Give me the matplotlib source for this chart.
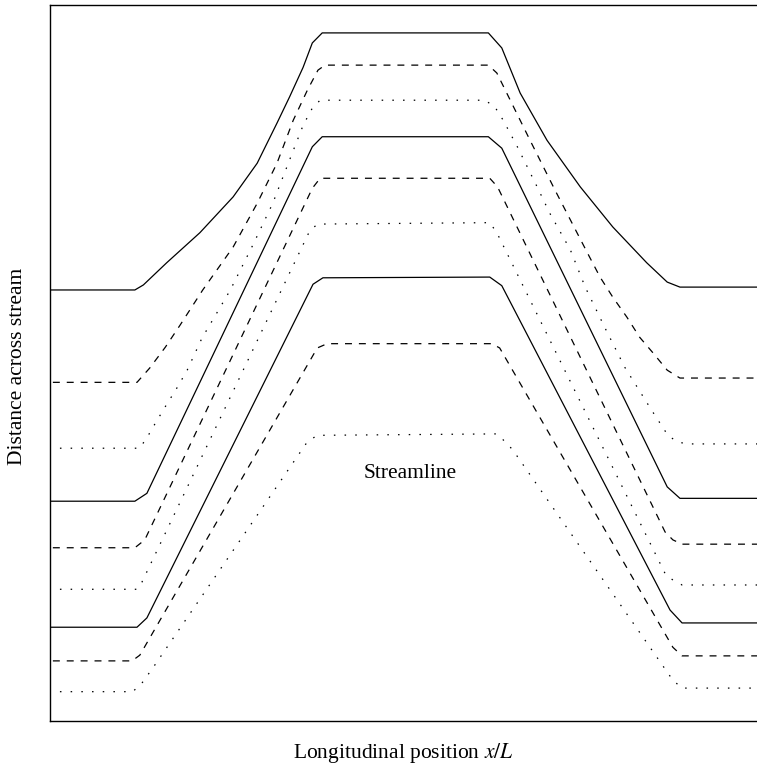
import matplotlib
matplotlib.use("Agg")
import matplotlib.pyplot as plt

plt.rcParams['font.family'] = ['Liberation Serif', 'DejaVu Serif']
plt.rcParams['mathtext.fontset'] = 'stix'
plt.rcParams['lines.scale_dashes'] = False

# streamlines, x/L vs distance across stream
s1_x = [0, 0.120, 0.132, 0.165, 0.212, 0.259, 0.293, 0.321, 0.339, 0.358, 0.371, 0.385,
        0.620, 0.639, 0.665, 0.703, 0.750, 0.796, 0.844, 0.873, 0.891, 1.0]
s1_y = [6.02, 6.02, 6.09, 6.40, 6.82, 7.32, 7.79, 8.35, 8.72, 9.13, 9.47, 9.61,
        9.61, 9.40, 8.77, 8.11, 7.46, 6.90, 6.40, 6.13, 6.06, 6.06]

s2_x = [0.004, 0.123, 0.141, 0.163, 0.184, 0.216, 0.259, 0.293, 0.321, 0.344, 0.364, 0.379, 0.389,
        0.620, 0.632, 0.651, 0.679, 0.714, 0.760, 0.778, 0.796, 0.816, 0.834, 0.853, 0.873, 0.891, 1.0]
s2_y = [4.73, 4.73, 4.93, 5.22, 5.53, 6.02, 6.62, 7.23, 7.79, 8.39, 8.81, 9.09, 9.16,
        9.16, 9.05, 8.67, 8.11, 7.42, 6.54, 6.20, 5.92, 5.64, 5.36, 5.14, 4.90, 4.79, 4.79]

s3_x = [0.014, 0.127, 0.139, 0.149, 0.163, 0.180, 0.194, 0.215, 0.236, 0.255, 0.287, 0.315, 0.339,
        0.358, 0.371, 0.382, 0.615, 0.629, 0.641, 0.661, 0.689, 0.707, 0.736, 0.757, 0.785, 0.813,
        0.851, 0.874, 0.887, 0.901, 1.0]
s3_y = [3.81, 3.81, 3.99, 4.16, 4.39, 4.66, 4.90, 5.35, 5.70, 6.02, 6.65, 7.23, 7.84,
        8.32, 8.56, 8.67, 8.67, 8.58, 8.39, 8.02, 7.46, 7.09, 6.58, 6.06, 5.49, 4.94,
        4.34, 3.99, 3.90, 3.87, 3.87]

s4_x = [0, 0.120, 0.137, 0.371, 0.385, 0.620, 0.639, 0.873, 0.891, 1.0]
s4_y = [3.07, 3.07, 3.18, 8.02, 8.16, 8.16, 8.00, 3.27, 3.11, 3.11]

s5_x = [0.004, 0.120, 0.134, 0.371, 0.382, 0.622, 0.633, 0.870, 0.881, 0.894, 1.0]
s5_y = [2.42, 2.42, 2.53, 7.44, 7.58, 7.58, 7.46, 2.64, 2.53, 2.47, 2.47]

s6_x = [0.014, 0.123, 0.130, 0.368, 0.379, 0.622, 0.632, 0.871, 0.881, 0.894, 1.0]
s6_y = [1.84, 1.84, 1.94, 6.86, 6.94, 6.96, 6.82, 2.04, 1.97, 1.90, 1.90]

s7_x = [0, 0.123, 0.137, 0.372, 0.386, 0.622, 0.639, 0.877, 0.894, 1.0]
s7_y = [1.31, 1.31, 1.44, 6.10, 6.19, 6.20, 6.08, 1.55, 1.37, 1.37]

s8_x = [0.004, 0.116, 0.127, 0.378, 0.392, 0.625, 0.636, 0.881, 0.894, 1.0]
s8_y = [0.84, 0.84, 0.92, 5.21, 5.27, 5.27, 5.21, 1.03, 0.91, 0.91]

s9_x = [0.014, 0.117, 0.130, 0.146, 0.364, 0.378, 0.632, 0.646, 0.655, 0.881, 0.894, 1.0]
s9_y = [0.41, 0.41, 0.53, 0.75, 3.90, 3.99, 4.01, 3.88, 3.78, 0.57, 0.46, 0.46]

solid = '-'
dashed = (0, (5, 5))
dotted = (0, (1.1, 6.6))

fig = plt.figure(figsize=(7.57, 7.66), dpi=100)
ax = fig.add_axes([0.0661, 0.0587, 0.9339, 0.9348])

ax.plot(s1_x, s1_y, color='black', lw=0.9, linestyle=solid)
ax.plot(s2_x, s2_y, color='black', lw=0.9, linestyle=dashed)
ax.plot(s3_x, s3_y, color='black', lw=0.9, linestyle=dotted)
ax.plot(s4_x, s4_y, color='black', lw=0.9, linestyle=solid)
ax.plot(s5_x, s5_y, color='black', lw=0.9, linestyle=dashed)
ax.plot(s6_x, s6_y, color='black', lw=0.9, linestyle=dotted)
ax.plot(s7_x, s7_y, color='black', lw=0.9, linestyle=solid)
ax.plot(s8_x, s8_y, color='black', lw=0.9, linestyle=dashed)
ax.plot(s9_x, s9_y, color='black', lw=0.9, linestyle=dotted)

ax.text(0.509, 3.39, "Streamline", fontsize=15.5, ha='center', va='baseline')

ax.set_xlim(0, 1)
ax.set_ylim(0, 10)
ax.set_xticks([])
ax.set_yticks([])
ax.spines['right'].set_visible(False)
for side in ['left', 'top', 'bottom']:
    ax.spines[side].set_linewidth(1.0)

ax.set_xlabel("Longitudinal position $x/L$", fontsize=15.5, va='baseline')
ax.xaxis.set_label_coords(0.5, -0.0517)
ax.set_ylabel("Distance across stream", fontsize=15.5, va='baseline')
ax.yaxis.set_label_coords(-0.0396, 0.495)

fig.savefig("out.png", dpi=100)
